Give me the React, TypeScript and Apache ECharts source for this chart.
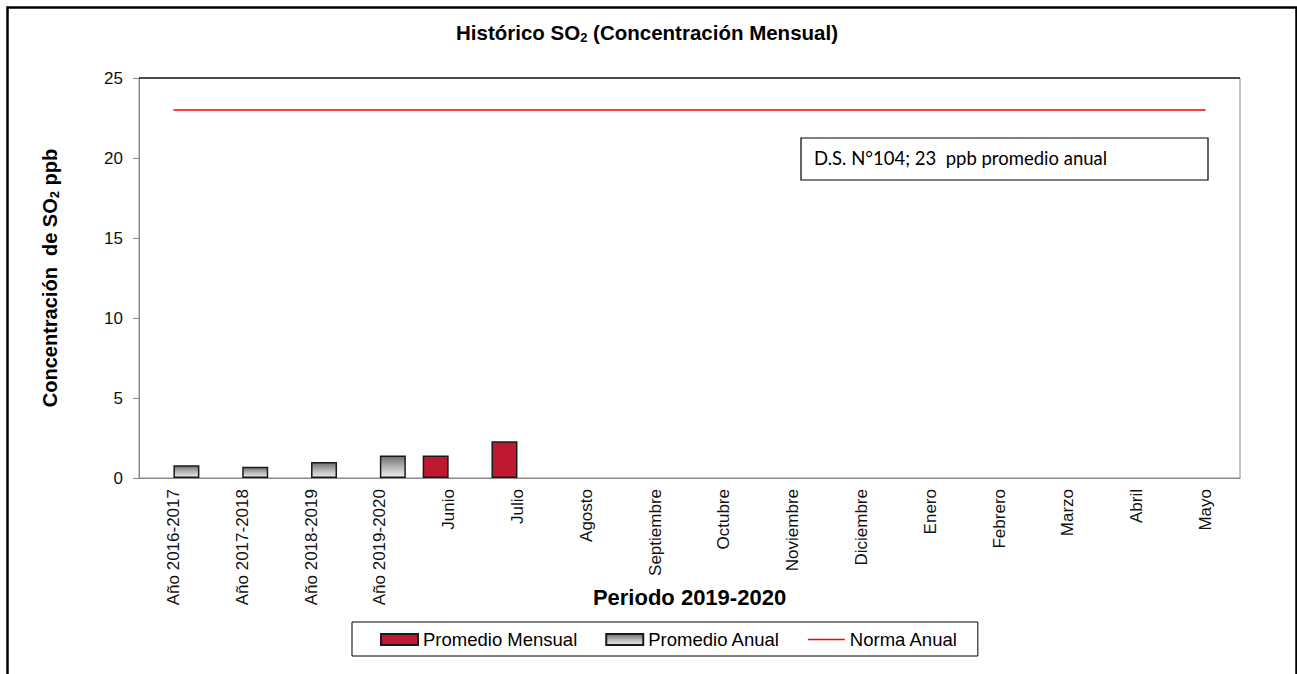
import React, { useEffect, useRef } from "react";
import * as echarts from "echarts";

const categories = [
  "Año 2016-2017",
  "Año 2017-2018",
  "Año 2018-2019",
  "Año 2019-2020",
  "Junio",
  "Julio",
  "Agosto",
  "Septiembre",
  "Octubre",
  "Noviembre",
  "Diciembre",
  "Enero",
  "Febrero",
  "Marzo",
  "Abril",
  "Mayo",
];

const promedioMensual = [null, null, null, null, 1.4, 2.3, null, null, null, null, null, null, null, null, null, null];
const promedioAnual = [0.8, 0.7, 1.0, 1.4, null, null, null, null, null, null, null, null, null, null, null, null];
const normaAnual = [23, 23, 23, 23, 23, 23, 23, 23, 23, 23, 23, 23, 23, 23, 23, 23];

const yTicks = { min: 0, max: 25, interval: 5 };
const annotationText = "D.S. N°104; 23  ppb promedio anual";

export default function App() {
  const ref = useRef<HTMLDivElement>(null);

  useEffect(() => {
    if (!ref.current) return;
    const chart = echarts.init(ref.current, null, { renderer: "svg" });
    const ARIAL = "Arial, 'Liberation Sans', sans-serif";
    const grayGrad = new echarts.graphic.LinearGradient(0, 0, 0, 1, [
      { offset: 0, color: "#6f6f6f" },
      { offset: 0.5, color: "#b4b4b4" },
      { offset: 1, color: "#ececec" },
    ]);
    const gridL = 139, gridT = 78, gridW = 1101, gridH = 400;
    chart.setOption({
      animation: false,
      backgroundColor: "#ffffff",
      title: {
        text: "Histórico SO{sub|2} (Concentración Mensual)",
        left: 451,
        top: 16,
        textStyle: {
          fontFamily: ARIAL,
          fontSize: 20.5,
          fontWeight: "bold",
          color: "#000",
          rich: {
            sub: { fontFamily: ARIAL, fontSize: 13, fontWeight: "bold", color: "#000", verticalAlign: "bottom", padding: [10, 0, 0, 0] },
          },
        },
      },
      grid: {
        left: gridL,
        top: gridT,
        width: gridW,
        height: gridH,
        show: true,
        borderColor: "#8a8a8a",
        borderWidth: 1,
        backgroundColor: "#fff",
      },
      legend: {
        left: 352,
        top: 622,
        orient: "horizontal",
        borderColor: "#000",
        borderWidth: 1,
        padding: [8, 20, 7, 28],
        itemGap: 28,
        itemWidth: 37,
        itemHeight: 11,
        textStyle: { fontFamily: ARIAL, fontSize: 18.5, color: "#000" },
        data: [
          { name: "Promedio Mensual", icon: "rect" },
          { name: "Promedio Anual", icon: "rect" },
          { name: "Norma Anual", icon: "path://M0,0 L37,0 L37,1.4 L0,1.4 Z", itemStyle: { color: "#ff0000", borderWidth: 0 } },
        ],
      },
      xAxis: {
        type: "category",
        data: categories,
        name: "Periodo 2019-2020",
        nameLocation: "middle",
        nameGap: 108,
        nameMoveOverlap: false,
        nameTextStyle: { fontFamily: ARIAL, fontSize: 22, fontWeight: "bold", color: "#000" },
        axisLine: { show: true, lineStyle: { color: "#8a8a8a", width: 1 } },
        axisTick: { show: false },
        axisLabel: {
          rotate: 90,
          interval: 0,
          margin: 11,
          fontFamily: ARIAL,
          fontSize: 17,
          color: "#111",
        },
        splitLine: { show: false },
      },
      yAxis: {
        type: "value",
        min: yTicks.min,
        max: yTicks.max,
        interval: yTicks.interval,
        name: "Concentración  de SO{sub|2} ppb",
        nameLocation: "middle",
        nameGap: 78,
        nameRotate: 90,
        nameMoveOverlap: false,
        nameTextStyle: {
          fontFamily: ARIAL,
          fontSize: 20,
          fontWeight: "bold",
          color: "#000",
          rich: {
            sub: { fontFamily: ARIAL, fontSize: 13, fontWeight: "bold", color: "#000", verticalAlign: "bottom", padding: [10, 0, 0, 0] },
          },
        },
        axisLine: { show: true, lineStyle: { color: "#8a8a8a", width: 1 } },
        axisTick: { show: true, length: 6, inside: false, lineStyle: { color: "#8a8a8a" } },
        axisLabel: { margin: 16, fontFamily: ARIAL, fontSize: 17, color: "#111" },
        splitLine: { show: false },
      },
      series: [
        {
          name: "Promedio Mensual",
          type: "bar",
          data: promedioMensual,
          barWidth: 26,
          barGap: "0%",
          itemStyle: { color: "#be1931", borderColor: "#1a1a1a", borderWidth: 1.5 },
        },
        {
          name: "Promedio Anual",
          type: "bar",
          data: promedioAnual,
          barWidth: 26,
          barGap: "0%",
          itemStyle: { color: grayGrad, borderColor: "#1a1a1a", borderWidth: 1.5 },
        },
        {
          name: "Norma Anual",
          type: "line",
          data: normaAnual,
          symbol: "none",
          showSymbol: false,
          lineStyle: { color: "#ff0000", width: 1.3 },
          itemStyle: { color: "#ff0000" },
        },
      ],
      graphic: [
        {
          type: "rect",
          left: 5,
          top: 5,
          shape: { x: 0, y: 0, width: 1289, height: 680 },
          style: { fill: "none", stroke: "#000", lineWidth: 2.5 },
          silent: true,
          z: -1,
        },
        {
          type: "line",
          shape: { x1: gridL, y1: gridT, x2: gridL + gridW, y2: gridT },
          style: { stroke: "#222", lineWidth: 1.5 },
          z: 10,
        },
        {
          type: "rect",
          shape: { x: 801, y: 138, width: 407, height: 42 },
          style: { fill: "#fff", stroke: "#000", lineWidth: 1.2 },
          z: 10,
        },
        {
          type: "text",
          x: 814,
          y: 158,
          style: {
            text: annotationText,
            fontFamily: "Lato, 'Open Sans', sans-serif",
            fontSize: 18.5,
            fill: "#000",
            textVerticalAlign: "middle",
            verticalAlign: "middle",
          },
          z: 11,
        },
      ],
    });
    return () => chart.dispose();
  }, []);

  return (
    <div
      ref={ref}
      style={{ position: "absolute", left: 0, top: 0, width: 1297, height: 674, background: "#fff" }}
    />
  );
}
